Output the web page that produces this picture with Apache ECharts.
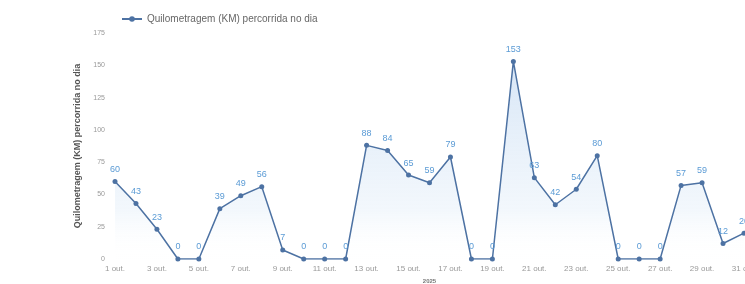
<!DOCTYPE html>
<html>
<head>
<meta charset="utf-8">
<script src="https://cdn.jsdelivr.net/npm/echarts@6/dist/echarts.min.js"></script>
<style>
  html, body { margin: 0; padding: 0; background: #fff; }
  #main { width: 745px; height: 284px; }
</style>
</head>
<body>
<div id="main"></div>
<script>
// dias de outubro
const days = []
for (let d = 1; d <= 31; d++) days.push(d + ' out.')
// km percorridos por dia
const km = [60, 43, 23, 0, 0, 39, 49, 56, 7, 0, 0, 0, 88, 84, 65, 59, 79, 0, 0, 153,
  63, 42, 54, 80, 0, 0, 0, 57, 59, 12, 20]
const yTicks = [0, 25, 50, 75, 100, 125, 150, 175]

let myChart = echarts.init(document.getElementById('main'))
myChart.setOption({
  animation: false,
  legend: {
    data: ['Quilometragem (KM) percorrida no dia'],
    left: 116,
    top: 9,
    itemWidth: 20,
    itemHeight: 7,
    itemGap: 5,
    textStyle: { fontSize: 10, color: '#666', fontFamily: 'Liberation Sans' }
  },
  grid: {
    left: 115,
    right: 1,
    top: 33,
    bottom: 25,
    containLabel: false,
    outerBoundsMode: 'none'
  },
  xAxis: {
    type: 'category',
    boundaryGap: false,
    data: days,
    name: '2025',
    nameLocation: 'middle',
    nameGap: 19,
    nameTextStyle: { fontSize: 6, color: '#777', fontWeight: 'bold' },
    axisLine: { show: false },
    axisTick: { show: false },
    axisLabel: { interval: 1, fontSize: 8, color: '#999', margin: 6, fontFamily: 'Liberation Sans' }
  },
  yAxis: {
    type: 'value',
    min: yTicks[0],
    max: yTicks[yTicks.length - 1],
    interval: 25,
    name: 'Quilometragem (KM) percorrida no dia',
    nameLocation: 'middle',
    nameGap: 32,
    nameRotate: 90,
    nameTextStyle: { fontSize: 9, color: '#555', fontWeight: 'bold', fontFamily: 'Liberation Sans' },
    axisLine: { show: false },
    axisTick: { show: false },
    splitLine: { show: false },
    axisLabel: { fontSize: 7, color: '#999', margin: 10, fontFamily: 'Liberation Sans' }
  },
  series: [{
    name: 'Quilometragem (KM) percorrida no dia',
    type: 'line',
    data: km,
    symbol: 'circle',
    symbolSize: 5,
    itemStyle: { color: '#4d72a3' },
    lineStyle: { color: '#4d72a3', width: 1.5 },
    label: { show: true, position: 'top', fontSize: 9, color: '#5b9bd5', distance: 5 },
    areaStyle: {
      color: new echarts.graphic.LinearGradient(0, 0, 0, 1, [
        { offset: 0, color: 'rgba(160,195,235,0.6)' },
        { offset: 0.75, color: 'rgba(210,228,245,0.4)' },
        { offset: 1, color: 'rgba(255,255,255,0)' }
      ])
    }
  }]
})
</script>
</body>
</html>
